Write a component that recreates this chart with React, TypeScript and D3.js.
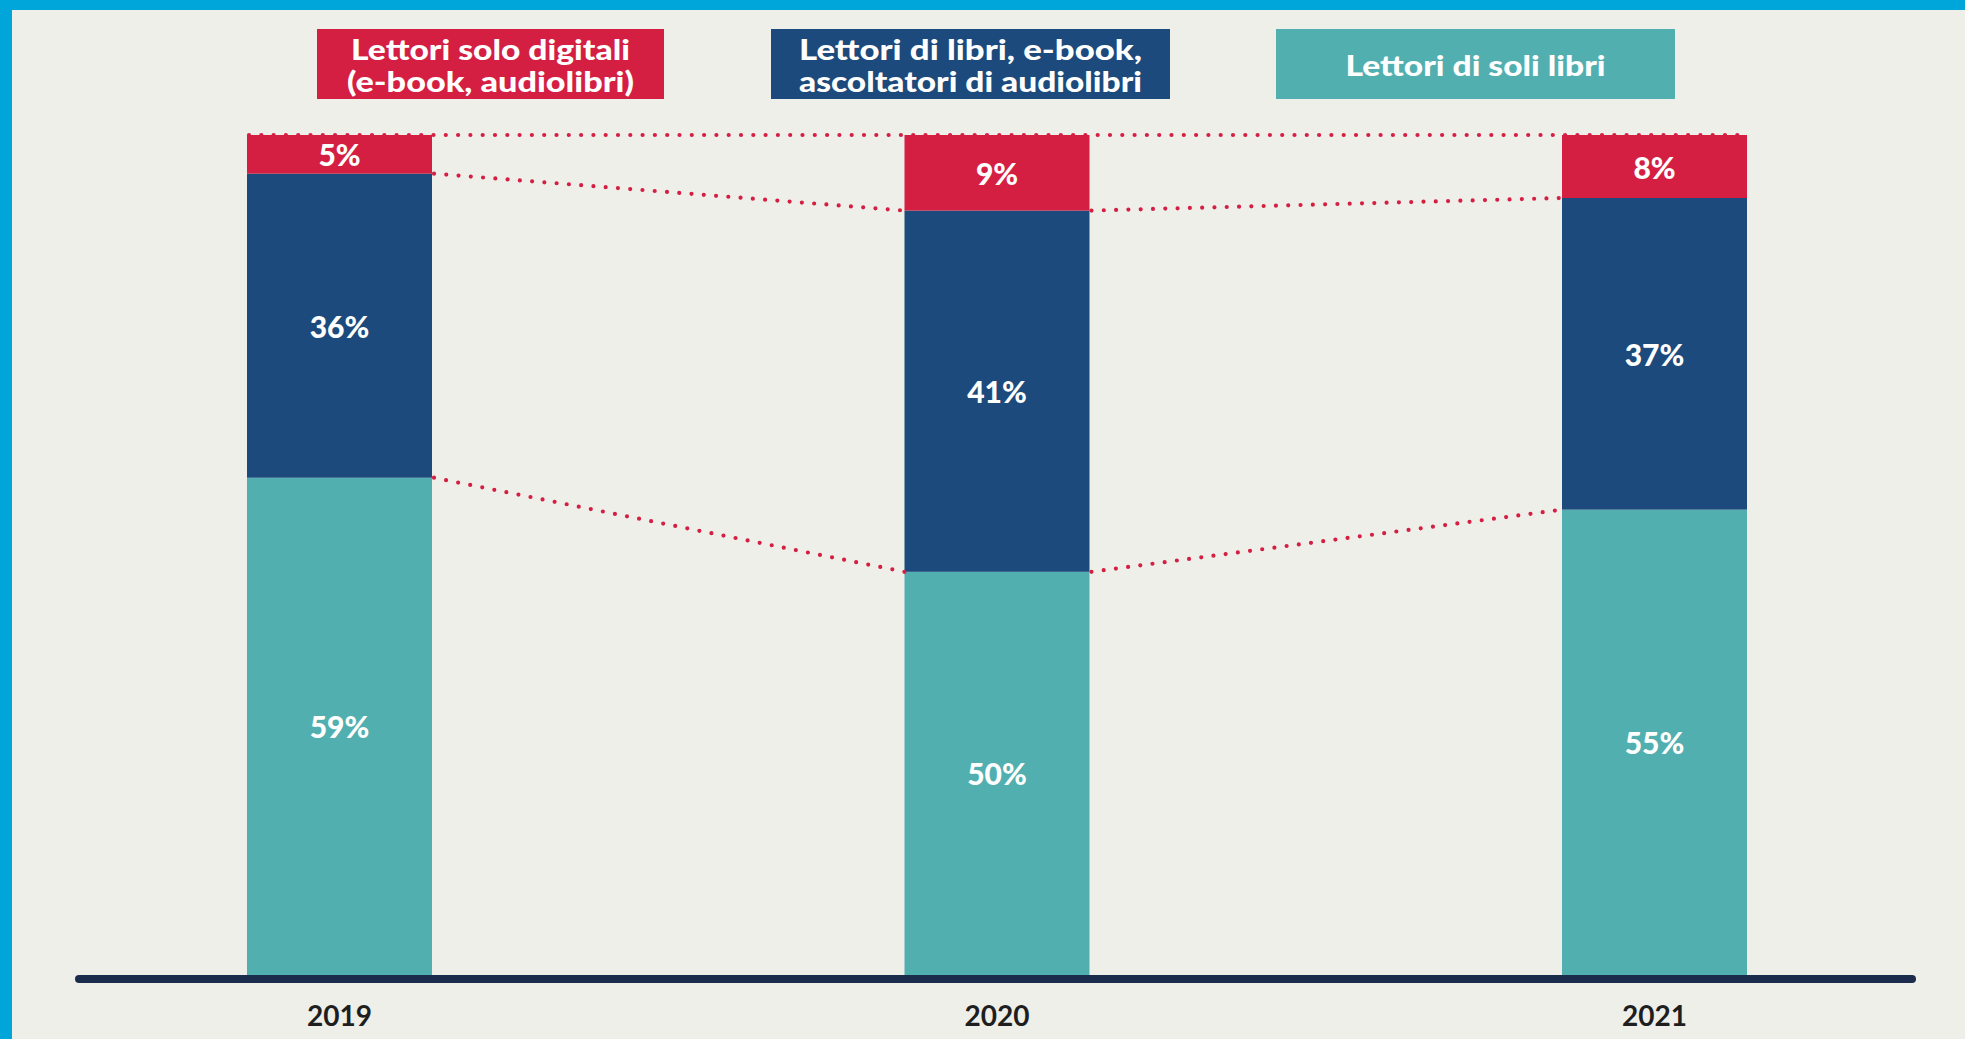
import React from "react";
import * as d3 from "d3";

// ---- data (bar heights as drawn, in % of the column) ----
const years = ["2019", "2020", "2021"];
const digitalOnly = [4.6, 9, 7.5];        // Lettori solo digitali
const booksAndDigital = [36.2, 43, 37.1];  // Lettori di libri, e-book, ascoltatori di audiolibri
const booksOnly = [59.2, 48, 55.4];        // Lettori di soli libri
const digitalLabels = ["5%", "9%", "8%"];
const mixedLabels = ["36%", "41%", "37%"];
const booksLabels = ["59%", "50%", "55%"];
const legendLabels = [
  ["Lettori solo digitali", "(e-book, audiolibri)"],
  ["Lettori di libri, e-book,", "ascoltatori di audiolibri"],
  ["Lettori di soli libri"],
];

const W = 1965;
const H = 1039;
const RED = "#d41f42";
const NAVY = "#1c4a7c";
const TEAL = "#52afb0";
const BG = "#efefea";
const BAND = "#00a5d9";
const AXIS = "#1a2b4b";
const FONT = "Lato, 'Open Sans', sans-serif";

export default function App() {
  const x = d3.scalePoint<string>().domain(years).range([339.5, 1654.5]);
  const barW = 185;
  const y = d3.scaleLinear().domain([0, 100]).range([975, 135]);

  const series = [
    { values: booksOnly, labels: booksLabels, color: TEAL },
    { values: booksAndDigital, labels: mixedLabels, color: NAVY },
    { values: digitalOnly, labels: digitalLabels, color: RED },
  ];
  const table = years.map((yr, i) => ({
    year: yr,
    b: booksOnly[i],
    m: booksAndDigital[i],
    d: digitalOnly[i],
  }));
  const stacked = d3.stack<any>().keys(["b", "m", "d"])(table);

  const boundaries = [stacked[0], stacked[1]].map((layer) =>
    layer.map((seg, i) => ({ cx: x(years[i])!, yv: y(seg[1]) }))
  );

  const legendBoxes = [
    { x0: 317, x1: 664, color: RED, lines: legendLabels[0], widths: [279, 287] },
    { x0: 771, x1: 1170, color: NAVY, lines: legendLabels[1], widths: [343, 343] },
    { x0: 1276, x1: 1675, color: TEAL, lines: legendLabels[2], widths: [260] },
  ];

  const dotStyle = {
    stroke: RED,
    strokeWidth: 4.2,
    strokeLinecap: "round" as const,
    strokeDasharray: "0 12.3",
    fill: "none",
  };

  return (
    <svg
      width={W}
      height={H}
      style={{ position: "absolute", left: 0, top: 0, display: "block" }}
    >
      <rect x={0} y={0} width={W} height={H} fill={BG} />
      <rect x={0} y={0} width={W} height={10} fill={BAND} />
      <rect x={0} y={0} width={12} height={H} fill={BAND} />

      {legendBoxes.map((lb, i) => {
        const cx = (lb.x0 + lb.x1) / 2;
        const n = lb.lines.length;
        return (
          <g key={i}>
            <rect x={lb.x0} y={29} width={lb.x1 - lb.x0} height={70} fill={lb.color} />
            {lb.lines.map((t, j) => (
              <text
                key={j}
                x={cx}
                y={n === 1 ? 64 : 48 + j * 32}
                textAnchor="middle"
                dominantBaseline="central"
                fill="#fff"
                fontFamily={FONT}
                fontWeight={900}
                fontSize={29}
                textLength={lb.widths[j]}
                lengthAdjust="spacingAndGlyphs"
              >
                {t}
              </text>
            ))}
          </g>
        );
      })}

      {stacked.map((layer, si) => (
        <g key={si}>
          {layer.map((seg, i) => (
            <rect
              key={i}
              x={x(years[i])! - barW / 2}
              y={y(seg[1])}
              width={barW}
              height={y(seg[0]) - y(seg[1])}
              fill={series[si].color}
            />
          ))}
          {layer.map((seg, i) => (
            <text
              key={"t" + i}
              x={x(years[i])!}
              y={(y(seg[0]) + y(seg[1])) / 2}
              textAnchor="middle"
              dominantBaseline="central"
              fill="#fff"
              fontFamily={FONT}
              fontWeight={900}
              fontSize={30}
            >
              {series[si].labels[i]}
            </text>
          ))}
        </g>
      ))}

      <line
        x1={x(years[0])! - barW / 2 + 2}
        x2={x(years[years.length - 1])! + barW / 2}
        y1={y(100)}
        y2={y(100)}
        style={dotStyle}
      />
      {boundaries.map((pts, bi) =>
        pts.slice(0, -1).map((p, i) => {
          const q = pts[i + 1];
          return (
            <line
              key={bi + "-" + i}
              x1={p.cx + barW / 2 + 2}
              y1={p.yv}
              x2={q.cx - barW / 2}
              y2={q.yv}
              style={dotStyle}
            />
          );
        })
      )}

      <line x1={79} x2={1912} y1={979} y2={979} stroke={AXIS} strokeWidth={8} strokeLinecap="round" />
      {years.map((yr) => (
        <text
          key={yr}
          x={x(yr)!}
          y={1015}
          textAnchor="middle"
          dominantBaseline="central"
          fill="#1e1e1e"
          fontFamily={FONT}
          fontWeight={700}
          fontSize={28}
        >
          {yr}
        </text>
      ))}
    </svg>
  );
}
